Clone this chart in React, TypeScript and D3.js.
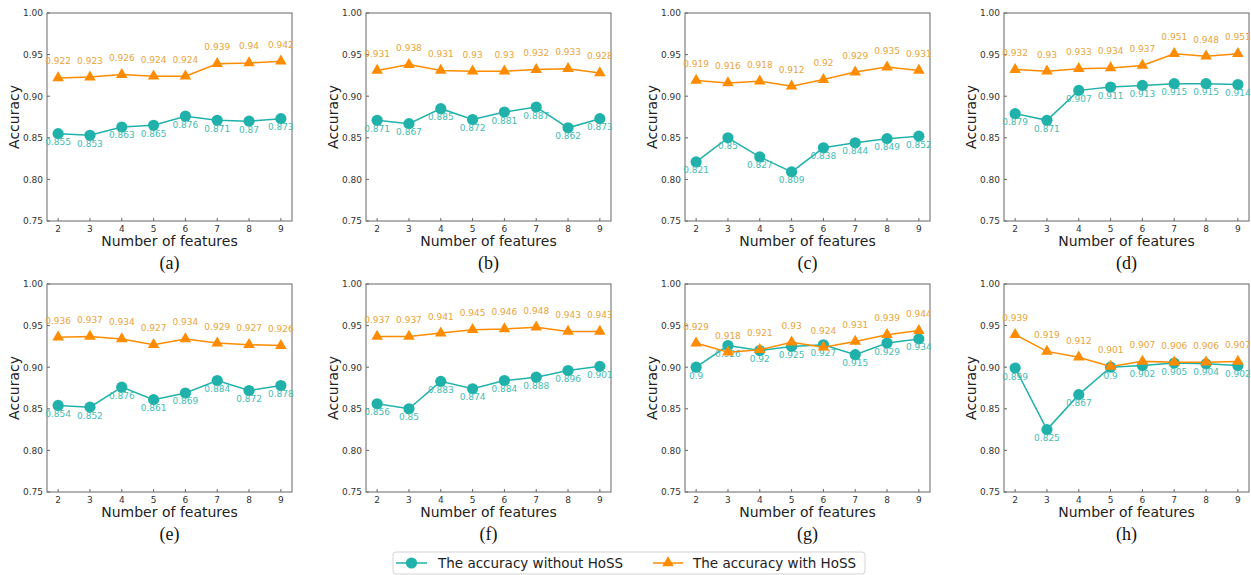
import React from "react";
import * as d3 from "d3";

const features = [2, 3, 4, 5, 6, 7, 8, 9];
const yTicks = [0.75, 0.8, 0.85, 0.9, 0.95, 1.0];
const panelLabels = ["(a)", "(b)", "(c)", "(d)", "(e)", "(f)", "(g)", "(h)"];

const withoutA = [0.855, 0.853, 0.863, 0.865, 0.876, 0.871, 0.87, 0.873];
const withA = [0.922, 0.923, 0.926, 0.924, 0.924, 0.939, 0.94, 0.942];
const withoutB = [0.871, 0.867, 0.885, 0.872, 0.881, 0.887, 0.862, 0.873];
const withB = [0.931, 0.938, 0.931, 0.93, 0.93, 0.932, 0.933, 0.928];
const withoutC = [0.821, 0.85, 0.827, 0.809, 0.838, 0.844, 0.849, 0.852];
const withC = [0.919, 0.916, 0.918, 0.912, 0.92, 0.929, 0.935, 0.931];
const withoutD = [0.879, 0.871, 0.907, 0.911, 0.913, 0.915, 0.915, 0.914];
const withD = [0.932, 0.93, 0.933, 0.934, 0.937, 0.951, 0.948, 0.951];
const withoutE = [0.854, 0.852, 0.876, 0.861, 0.869, 0.884, 0.872, 0.878];
const withE = [0.936, 0.937, 0.934, 0.927, 0.934, 0.929, 0.927, 0.926];
const withoutF = [0.856, 0.85, 0.883, 0.874, 0.884, 0.888, 0.896, 0.901];
const withF = [0.937, 0.937, 0.941, 0.945, 0.946, 0.948, 0.943, 0.943];
const withoutG = [0.9, 0.926, 0.92, 0.925, 0.927, 0.915, 0.929, 0.934];
const withG = [0.929, 0.918, 0.921, 0.93, 0.924, 0.931, 0.939, 0.944];
const withoutH = [0.899, 0.825, 0.867, 0.9, 0.902, 0.905, 0.904, 0.902];
const withH = [0.939, 0.919, 0.912, 0.901, 0.907, 0.906, 0.906, 0.907];

const withoutSeries = [withoutA, withoutB, withoutC, withoutD, withoutE, withoutF, withoutG, withoutH];
const withSeries = [withA, withB, withC, withD, withE, withF, withG, withH];

const TEAL = "#20b2aa";
const TEAL_TEXT = "#45bcb2";
const ORANGE = "#ff8c00";
const ORANGE_TEXT = "#e9a53a";
const SANS = "'DejaVu Sans', sans-serif";

const colLeft = [47, 366, 685, 1004];
const rowTop = [13, 284];
const PW = 245;
const PH = 208;

const triPath = d3.symbol().type(d3.symbolTriangle).size(58)() as string;

function Panel({ idx }: { idx: number }) {
  const left = colLeft[idx % 4];
  const top = rowTop[Math.floor(idx / 4)];
  const x = d3.scaleLinear().domain([1.65, 9.35]).range([left, left + PW]);
  const y = d3.scaleLinear().domain([0.75, 1.0]).range([top + PH, top]);
  const wo = withoutSeries[idx];
  const wi = withSeries[idx];
  const line = d3
    .line<number>()
    .x((_, i) => x(features[i]))
    .y((d) => y(d));
  return (
    <g>
      <rect x={left} y={top} width={PW} height={PH} fill="white" stroke="#666" strokeWidth={1} />
      {yTicks.map((t) => (
        <g key={"y" + t}>
          <line x1={left} x2={left + 3} y1={y(t)} y2={y(t)} stroke="#666" />
          <text x={left - 4} y={y(t) + 3.3} fontSize={9} textAnchor="end" fill="#333" fontFamily={SANS}>
            {t.toFixed(2)}
          </text>
        </g>
      ))}
      {features.map((f) => (
        <g key={"x" + f}>
          <line x1={x(f)} x2={x(f)} y1={top + PH} y2={top + PH - 3} stroke="#666" />
          <text x={x(f)} y={top + PH + 11} fontSize={9} textAnchor="middle" fill="#333" fontFamily={SANS}>
            {f}
          </text>
        </g>
      ))}
      <text
        transform={`translate(${left - 33},${top + PH / 2}) rotate(-90)`}
        fontSize={14}
        textAnchor="middle"
        fill="#222"
        fontFamily={SANS}
        dy="0.35em"
      >
        Accuracy
      </text>
      <text x={left + PW / 2} y={top + PH + 25} fontSize={14} textAnchor="middle" fill="#222" fontFamily={SANS}>
        Number of features
      </text>
      <text
        x={left + PW / 2}
        y={top + PH + 48}
        fontSize={18}
        textAnchor="middle"
        fill="#111"
        fontFamily="'Liberation Serif', 'Times New Roman', serif"
      >
        {panelLabels[idx]}
      </text>
      <path d={line(wo) as string} fill="none" stroke={TEAL} strokeWidth={1.5} />
      {wo.map((v, i) => (
        <circle key={"c" + i} cx={x(features[i])} cy={y(v)} r={5.6} fill={TEAL} />
      ))}
      {wo.map((v, i) => (
        <text key={"tw" + i} x={x(features[i])} y={y(v) + 11.5} fontSize={9} textAnchor="middle" fill={TEAL_TEXT} fontFamily={SANS}>
          {String(v)}
        </text>
      ))}
      <path d={line(wi) as string} fill="none" stroke={ORANGE} strokeWidth={1.5} />
      {wi.map((v, i) => (
        <path key={"t" + i} d={triPath} transform={`translate(${x(features[i])},${y(v)})`} fill={ORANGE} />
      ))}
      {wi.map((v, i) => (
        <text key={"ti" + i} x={x(features[i])} y={y(v) - 13.5} fontSize={9} textAnchor="middle" fill={ORANGE_TEXT} fontFamily={SANS}>
          {String(v)}
        </text>
      ))}
    </g>
  );
}

export default function App() {
  const legendY = 563;
  return (
    <svg
      width={1251}
      height={575}
      style={{ position: "absolute", left: 0, top: 0, background: "white" }}
    >
      <rect x={0} y={0} width={1251} height={575} fill="white" />
      {panelLabels.map((_, i) => (
        <Panel key={i} idx={i} />
      ))}
      <rect x={393} y={552} width={472} height={22} rx={3} fill="white" stroke="#d4d4d4" />
      <line x1={396} x2={427} y1={legendY} y2={legendY} stroke={TEAL} strokeWidth={1.5} />
      <circle cx={411.5} cy={legendY} r={5.6} fill={TEAL} />
      <text x={438} y={legendY + 5} fontSize={13.5} fill="#222" fontFamily={SANS}>
        The accuracy without HoSS
      </text>
      <line x1={653} x2={683} y1={legendY} y2={legendY} stroke={ORANGE} strokeWidth={1.5} />
      <path d={triPath} transform={`translate(668,${legendY})`} fill={ORANGE} />
      <text x={693} y={legendY + 5} fontSize={13.5} fill="#222" fontFamily={SANS}>
        The accuracy with HoSS
      </text>
    </svg>
  );
}
